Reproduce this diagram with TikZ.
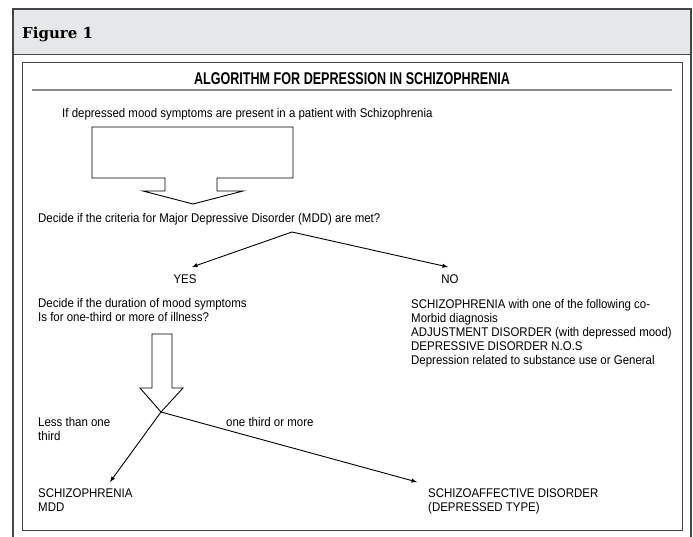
\documentclass[tikz,border=0pt]{standalone}
\usepackage{fontspec}
\setmainfont{Liberation Sans}[FakeStretch=0.91]
\newfontfamily\headfont{DejaVu Serif}
\newfontfamily\titlefont{Liberation Sans}[FakeStretch=0.74]
\usetikzlibrary{positioning}

\definecolor{bandgray}{RGB}{230,231,232}
\definecolor{framegray}{RGB}{70,70,70}
\definecolor{rulegray}{RGB}{140,140,140}

\tikzset{
  txt/.style={inner sep=0pt, anchor=base west, font=\fontsize{12.6}{14}\selectfont, align=left},
  arr/.style={-latex, line width=0.9pt},
  blockarrow/.style={line width=0.9pt}
}

\begin{document}
\begin{tikzpicture}[x=1pt,y=-1pt]
\useasboundingbox (0,0) rectangle (693,536);

% Draw the frame and the grey band
\fill[bandgray] (13,9) rectangle (691,54);
\draw[framegray, line width=1.4pt] (13,540) -- (13,9) -- (691,9) -- (691,540);
\draw[framegray, line width=1pt] (13,54) -- (691,54);
\node[inner sep=0pt, anchor=base west, font=\headfont\bfseries\fontsize{15}{16}\selectfont] (fig) at (22,38) {Figure 1};

% Draw the inner box
\draw[framegray, line width=1pt] (22,62) rectangle (682,530);

% Add title and its rule
\node[inner sep=0pt, anchor=base, font=\titlefont\bfseries\fontsize{17}{18}\selectfont] (title) at (352,84) {ALGORITHM FOR DEPRESSION IN SCHIZOPHRENIA};
\draw[rulegray, line width=2.4pt] (32,90) -- (672,90);

% Start text
\node[txt] (start) at (62,117) {If depressed mood symptoms are present in a patient with Schizophrenia};

% Big block arrow
\draw[blockarrow] (92,127) -- (293,127) -- (293,178) -- (217,178) -- (217,191) -- (243,191)
  -- (193,204) -- (143,191) -- (165,191) -- (165,178) -- (92,178) -- cycle;

% Decide MDD
\node[txt] (mdd) at (38,222) {Decide if the criteria for Major Depressive Disorder (MDD) are met?};
\coordinate (split1) at (292,232);
\coordinate (yestip) at (192,267);
\coordinate (notip) at (448,267);
\draw[arr] (split1) -- (yestip);
\draw[arr] (split1) -- (notip);

\node[txt, anchor=base] (yes) at (185,283) {YES};
\node[txt, anchor=base] (no) at (450,283) {NO};

% YES branch (base = last line)
\node[txt] (duration) at (38,321) {Decide if the duration of mood symptoms\\Is for one-third or more of illness?};

% NO branch (base = last line)
\node[txt] (comorbid) at (411,364) {SCHIZOPHRENIA with one of the following co-\\Morbid diagnosis\\ADJUSTMENT DISORDER (with depressed mood)\\DEPRESSIVE DISORDER N.O.S\\Depression related to substance use or General};

% Small block arrow
\draw[blockarrow] (152,334) -- (172,334) -- (172,388) -- (183,388) -- (161,412)
  -- (140,388) -- (152,388) -- cycle;

% Duration split
\coordinate (split2) at (161,412);
\coordinate (lesstip) at (110,482);
\coordinate (moretip) at (417,482);
\draw[arr] (split2) -- (lesstip);
\draw[arr] (split2) -- (moretip);

\node[txt] (less) at (38,440) {Less than one\\third};
\node[txt] (more) at (226,426) {one third or more};

% Outcomes
\node[txt] (schizo) at (38,511) {SCHIZOPHRENIA\\MDD};
\node[txt] (affective) at (428,511) {SCHIZOAFFECTIVE DISORDER\\(DEPRESSED TYPE)};

\end{tikzpicture}
\end{document}
